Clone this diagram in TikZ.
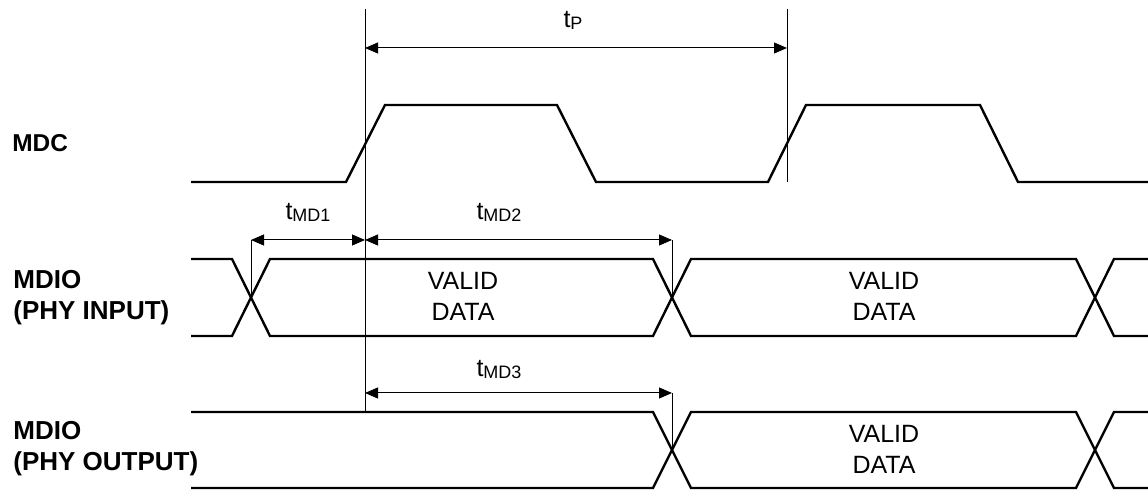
\documentclass[tikz,border=0pt]{standalone}
\usepackage{fontspec}
\setmainfont{Liberation Sans}
\usetikzlibrary{arrows.meta,positioning}

\newcommand{\tsub}[1]{t\raisebox{-1pt}{\fontsize{9}{9}\selectfont #1}}

\begin{document}
\begin{tikzpicture}[x=0.5pt,y=-0.5pt,
  sig/.style={line width=1.2pt,line join=miter},
  guide/.style={line width=0.5pt},
  dim/.style={line width=0.5pt,{Triangle[length=6.5pt,width=5.5pt]}-{Triangle[length=6.5pt,width=5.5pt]}},
  lbl/.style={font=\fontsize{13}{15.5}\selectfont\bfseries,align=left,anchor=west,inner sep=0pt},
  txt/.style={font=\fontsize{12.5}{15.5}\selectfont,align=center,inner sep=0pt},
  tname/.style={font=\fontsize{12.5}{15}\selectfont,anchor=base,inner sep=0pt}]
\useasboundingbox (0,0) rectangle (1148,491);

% row names
\node[lbl,font=\fontsize{12.2}{14}\selectfont\bfseries] (mdc) at (12,143) {MDC};
\node[lbl] (mdin) at (13,298) {MDIO\\(PHY INPUT)};
\node[lbl] (mdout) at (13,449) {MDIO\\(PHY OUTPUT)};

% MDC clock
\draw[sig] (191,182) -- (346,182) -- (385,105) -- (557,105) -- (596,182)
  -- (768,182) -- (806,105) -- (980,105) -- (1018,182) -- (1148,182);

% MDIO (PHY INPUT)
\draw[sig] (191,259) -- (232,259) -- (270,336) -- (653,336) -- (691,259)
  -- (1076,259) -- (1114,336) -- (1148,336);
\draw[sig] (191,336) -- (232,336) -- (270,259) -- (653,259) -- (691,336)
  -- (1076,336) -- (1114,259) -- (1148,259);
\node[txt] (vin1) at (463,296) {VALID\\DATA};
\node[txt] (vin2) at (884,296) {VALID\\DATA};

% MDIO (PHY OUTPUT)
\draw[sig] (191,412) -- (653,412) -- (691,488) -- (1076,488) -- (1114,412) -- (1148,412);
\draw[sig] (191,488) -- (653,488) -- (691,412) -- (1076,412) -- (1114,488) -- (1148,488);
\node[txt] (vout) at (884,449) {VALID\\DATA};

% reference points
\coordinate (e1) at (365,9);
\coordinate (e1b) at (365,412);
\coordinate (e2) at (787,9);
\coordinate (e2b) at (787,182);
\coordinate (x1) at (251,297.5);
\coordinate (x2) at (672,297.5);
\coordinate (x3) at (672,450);
\coordinate (p1) at (365,48);
\coordinate (p2) at (787,48);
\coordinate (m1) at (251,240);
\coordinate (m2) at (365,240);
\coordinate (m3) at (672,240);
\coordinate (m4) at (365,393);
\coordinate (m5) at (672,393);

% guide lines
\draw[guide] (e1) -- (e1b);
\draw[guide] (e2) -- (e2b);
\draw[guide] (m1) -- (x1);
\draw[guide] (m3) -- (x2);
\draw[guide] (m5) -- (x3);

% timing arrows
\draw[dim] (p1) -- (p2);
\draw[dim] (m1) -- (m2);
\draw[dim] (m2) -- (m3);
\draw[dim] (m4) -- (m5);
\node[tname] (tp) at (573,28) {\tsub{P}};
\node[tname] (tmd1) at (308,220) {\tsub{MD1}};
\node[tname] (tmd2) at (499,220) {\tsub{MD2}};
\node[tname] (tmd3) at (499,377) {\tsub{MD3}};
\end{tikzpicture}
\end{document}
